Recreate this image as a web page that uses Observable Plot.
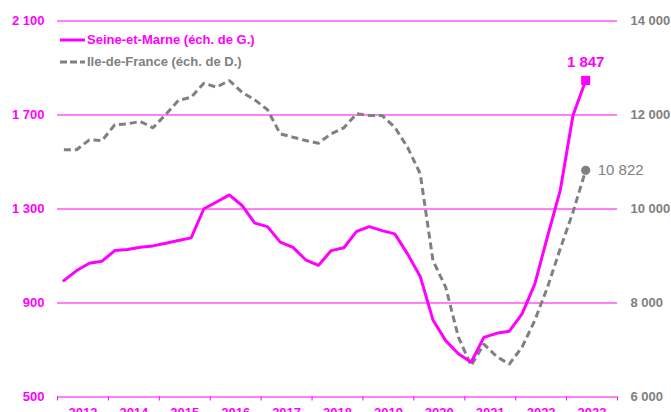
<!DOCTYPE html>
<html>
<head>
<meta charset="utf-8">
<script src="https://cdn.jsdelivr.net/npm/d3@7"></script>
<script src="https://cdn.jsdelivr.net/npm/@observablehq/plot@0.6"></script>
<style>
  body { margin: 0; background: #fff; }
  #wrap { position: relative; width: 671px; height: 412px; overflow: hidden; font-family: "Liberation Sans", Arial, sans-serif; }
  .leg { position: absolute; left: 60px; height: 16px; line-height: 16px; font-weight: bold; font-size: 13px; display: flex; align-items: center; white-space: nowrap; }
  .leg svg { margin-right: 2px; }
</style>
</head>
<body>
<div id="wrap"></div>
<script>
// Quarterly periods (T1..T4)
const periods = [
  "2013-T1","2013-T2","2013-T3","2013-T4",
  "2014-T1","2014-T2","2014-T3","2014-T4",
  "2015-T1","2015-T2","2015-T3","2015-T4",
  "2016-T1","2016-T2","2016-T3","2016-T4",
  "2017-T1","2017-T2","2017-T3","2017-T4",
  "2018-T1","2018-T2","2018-T3","2018-T4",
  "2019-T1","2019-T2","2019-T3","2019-T4",
  "2020-T1","2020-T2","2020-T3","2020-T4",
  "2021-T1","2021-T2","2021-T3","2021-T4",
  "2022-T1","2022-T2","2022-T3","2022-T4",
  "2023-T1","2023-T2"
];
// Seine-et-Marne (left scale)
const seineEtMarne = [
  995, 1038, 1069, 1078,
  1123, 1128, 1137, 1143,
  1154, 1166, 1177, 1301,
  1330, 1360, 1315, 1240,
  1225, 1159, 1137, 1084,
  1060, 1123, 1135, 1205,
  1225, 1208, 1194, 1109,
  1013, 828, 740, 684,
  648, 754, 771, 780,
  854, 980, 1183, 1379,
  1698, 1847
];
// Ile-de-France (right scale)
const ileDeFrance = [
  11260, 11260, 11472, 11457,
  11792, 11813, 11862, 11728,
  12011, 12309, 12379, 12677,
  12592, 12734, 12485, 12323,
  12111, 11600, 11528, 11457,
  11400, 11600, 11728, 12026,
  11990, 11990, 11740, 11315,
  10749, 8904, 8336, 7272,
  6670, 7125, 6862, 6700,
  7060, 7628, 8336, 9153,
  9932, 10822
];
const yearBounds = [2013, 2014, 2015, 2016, 2017, 2018, 2019, 2020, 2021, 2022, 2023, 2024];
const yearLabels = [2013, 2014, 2015, 2016, 2017, 2018, 2019, 2020, 2021, 2022, 2023];
const leftTicks = [500, 900, 1300, 1700, 2100];
const rightTicks = [6000, 8000, 10000, 12000, 14000];
const seriesNames = ["Seine-et-Marne (éch. de G.)", "Ile-de-France (éch. de D.)"];

const MAGENTA = "#ff00ff";
const GREY = "#808080";

// right scale -> left scale equivalence
const r0 = rightTicks[0], r1 = rightTicks[rightTicks.length - 1];
const l0 = leftTicks[0], l1 = leftTicks[leftTicks.length - 1];
const toLeft = v => l0 + (v - r0) * (l1 - l0) / (r1 - r0);
const fmt = v => d3.format(",")(v).replace(/,/g, " ");
const periodX = p => { const [y, q] = p.split("-T"); return +y + (+q - 0.5) / 4; };

const data = periods.map((p, i) => ({x: periodX(p), sem: seineEtMarne[i], idf: ileDeFrance[i], idfL: toLeft(ileDeFrance[i])}));
const last = data[data.length - 1];

const chart = Plot.plot({
  width: 671,
  height: 412,
  marginLeft: 57,
  marginRight: 54,
  marginTop: 20.5,
  marginBottom: 15.5,
  style: {fontFamily: '"Liberation Sans", Arial, sans-serif', fontSize: "13px", background: "#fff", overflow: "visible"},
  x: {domain: [yearBounds[0], yearBounds[yearBounds.length - 1]], label: null},
  y: {domain: [l0, l1], label: null},
  marks: [
    Plot.ruleY(leftTicks, {stroke: MAGENTA, strokeWidth: 1}),
    Plot.axisX({ticks: yearBounds, tickSize: 4, tickFormat: () => "", stroke: MAGENTA, color: MAGENTA, label: null}),
    Plot.axisX({ticks: yearLabels.map(y => y + 0.5), tickSize: 0, tickPadding: 10.5, tickFormat: d => String(Math.floor(d)), fill: MAGENTA, fontWeight: "bold", fontSize: 13, label: null}),
    Plot.axisY({anchor: "left", ticks: leftTicks, tickSize: 0, tickPadding: 13, tickFormat: fmt, fill: MAGENTA, fontWeight: "bold", fontSize: 13, label: null}),
    Plot.axisY({anchor: "right", ticks: rightTicks.map(toLeft), tickSize: 0, tickPadding: 13, tickFormat: (d, i) => fmt(rightTicks[i]), fill: GREY, fontWeight: "bold", fontSize: 13, label: null}),
    Plot.line(data, {x: "x", y: "idfL", stroke: GREY, strokeWidth: 3, strokeDasharray: "7,4", strokeLinecap: "butt", strokeLinejoin: "miter"}),
    Plot.line(data, {x: "x", y: "sem", stroke: MAGENTA, strokeWidth: 3, strokeLinejoin: "miter"}),
    Plot.dot([last], {x: "x", y: "sem", symbol: "square", r: 5.1, fill: MAGENTA, stroke: null}),
    Plot.text([last], {x: "x", y: "sem", text: d => fmt(d.sem), dy: -18, fill: MAGENTA, fontWeight: "bold", fontSize: 15}),
    Plot.dot([last], {x: "x", y: "idfL", r: 4.6, fill: GREY, stroke: null}),
    Plot.text([last], {x: "x", y: "idfL", text: d => fmt(d.idf), dx: 12, textAnchor: "start", fill: GREY, fontSize: 15})
  ]
});

const wrap = document.getElementById("wrap");
wrap.appendChild(chart);

// Legend (inside plot area, top-left)
const legItems = [
  {name: seriesNames[0], color: MAGENTA, dash: null, top: 32},
  {name: seriesNames[1], color: GREY, dash: "7,3", top: 54}
];
for (const it of legItems) {
  const div = document.createElement("div");
  div.className = "leg";
  div.style.top = it.top + "px";
  div.style.color = it.color;
  div.innerHTML = `<svg width="25" height="16"><line x1="0" x2="25" y1="8" y2="8" stroke="${it.color}" stroke-width="3" ${it.dash ? `stroke-dasharray="${it.dash}"` : ""}/></svg><span>${it.name}</span>`;
  wrap.appendChild(div);
}
</script>
</body>
</html>
